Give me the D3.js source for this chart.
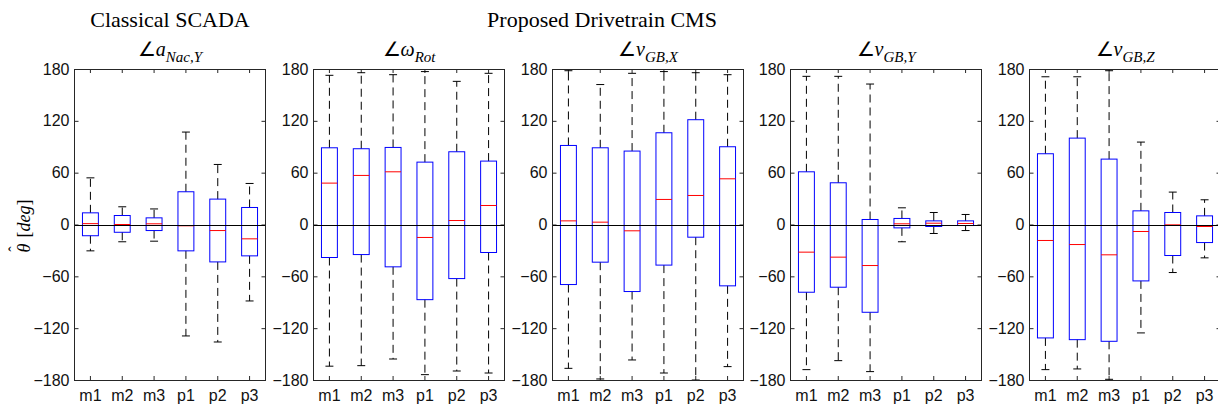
<!DOCTYPE html>
<html>
<head>
<meta charset="utf-8">
<script src="https://cdn.jsdelivr.net/npm/d3@7"></script>
<style>
  body { margin: 0; background: #fff; }
  svg { display: block; }
  .tick text { font-family: "Liberation Sans", Arial, sans-serif; font-size: 16px; fill: #111; }
  .tick line { stroke: #262626; }
</style>
</head>
<body>
<div id="chart"></div>
<script>
// Categories on every x axis
const categories = ['m1', 'm2', 'm3', 'p1', 'p2', 'p3'];
const yTicks = [-180, -120, -60, 0, 60, 120, 180];

// Box stats per category: [lower whisker, q1, median, q3, upper whisker]
const statsNacY = [
    [-30.5, -13, 1, 13.5, 54],
    [-20, -9, 0, 10.4, 20.5],
    [-19.3, -7, 0.8, 7.7, 18],
    [-129, -30.5, -1.5, 37.9, 107],
    [-136, -43.3, -7, 29.4, 69.5],
    [-88.5, -36.3, -16.6, 19.7, 47.5]
];
const statsRot = [
    [-164, -38.2, 47.9, 88.8, 172.7],
    [-163.4, -34.8, 56.8, 87.7, 175.7],
    [-155.7, -49, 61, 89.2, 173.4],
    [-173.8, -87, -15, 72.2, 177],
    [-169.6, -62.6, 4.6, 84.2, 165.7],
    [-171.9, -32.4, 22, 73.4, 175]
];
const statsGBX = [
    [-166.5, -69.5, 4.2, 91.5, 178],
    [-178.8, -43.6, 2.7, 88.8, 162],
    [-156.8, -77.6, -7.3, 85, 175],
    [-171.9, -47, 29, 106.2, 177],
    [-180, -14.7, 33.6, 121.3, 175.7],
    [-164.5, -71, 52.9, 90, 173.4]
];
const statsGBY = [
    [-168, -78.4, -32, 61, 171.5],
    [-157.6, -72.6, -37.8, 48.3, 171.5],
    [-170.3, -101.6, -47.5, 5.8, 162.6],
    [-20, -3.9, 0.8, 7, 19.3],
    [-10.4, -2.3, 1.5, 4.2, 13.9],
    [-7, -1.2, 1.2, 4.2, 11.6]
];
const statsGBZ = [
    [-168, -131.3, -18.5, 81.9, 171],
    [-167.2, -133.3, -23.2, 100, 171],
    [-179.2, -135.2, -35.1, 75.7, 178],
    [-125.5, -65.3, -8.1, 15.8, 95.4],
    [-55.6, -35.9, -0.4, 13.9, 37.5],
    [-38.6, -20.9, -2.3, 10, 28.6]
];

// Panel titles: main symbol + subscript
const panels = [
    { sym: 'a', sub: 'Nac,Y', stats: statsNacY },
    { sym: 'ω', sub: 'Rot', stats: statsRot },
    { sym: 'v', sub: 'GB,X', stats: statsGBX },
    { sym: 'v', sub: 'GB,Y', stats: statsGBY },
    { sym: 'v', sub: 'GB,Z', stats: statsGBZ }
];

const width = 1218, height = 407;
const panelLeft = 74, panelStep = 238.75, panelW = 191;
const yTop = 69, yBottom = 380;
const serif = '"Liberation Serif", "Times New Roman", serif';

const svg = d3.select('#chart')
    .append('svg')
    .attr('width', width)
    .attr('height', height);

const y = d3.scaleLinear().domain([-180, 180]).range([yBottom, yTop]);

panels.forEach((p, i) => {
    const left = Math.round(panelLeft + i * panelStep) + 0.5;
    const right = left + panelW;
    const x = d3.scaleBand().domain(categories).range([left, right]).padding(0);
    const bw = x.bandwidth() * 0.5;
    const cx = c => x(c) + x.bandwidth() / 2;

    const g = svg.append('g');

    // axes with inward ticks, like MATLAB's box on
    g.append('g')
        .attr('transform', `translate(${left},0)`)
        .call(d3.axisLeft(y).tickValues(yTicks).tickSize(-4).tickPadding(5))
        .call(a => a.select('.domain').remove());
    g.append('g')
        .attr('transform', `translate(${right},0)`)
        .call(d3.axisRight(y).tickValues(yTicks).tickSize(-4).tickFormat(''))
        .call(a => a.select('.domain').remove());
    g.append('g')
        .attr('transform', `translate(0,${yBottom})`)
        .call(d3.axisBottom(x).tickSize(-4).tickPadding(10))
        .call(a => a.select('.domain').remove());
    g.append('g')
        .attr('transform', `translate(0,${yTop})`)
        .call(d3.axisTop(x).tickSize(-4).tickFormat(''))
        .call(a => a.select('.domain').remove());

    // boxes
    const boxes = g.selectAll('.bx')
        .data(categories.map((c, k) => ({ c: c, s: p.stats[k] })))
        .enter()
        .append('g');

    // dashed whiskers
    boxes.append('line')
        .attr('x1', d => cx(d.c)).attr('x2', d => cx(d.c))
        .attr('y1', d => y(d.s[3])).attr('y2', d => y(d.s[4]))
        .attr('stroke', '#000').attr('stroke-dasharray', '8,5');
    boxes.append('line')
        .attr('x1', d => cx(d.c)).attr('x2', d => cx(d.c))
        .attr('y1', d => y(d.s[1])).attr('y2', d => y(d.s[0]))
        .attr('stroke', '#000').attr('stroke-dasharray', '8,5');
    // whisker caps
    [0, 4].forEach(j => {
        boxes.append('line')
            .attr('x1', d => cx(d.c) - bw / 4).attr('x2', d => cx(d.c) + bw / 4)
            .attr('y1', d => y(d.s[j])).attr('y2', d => y(d.s[j]))
            .attr('stroke', '#000');
    });
    boxes.append('rect')
        .attr('x', d => cx(d.c) - bw / 2)
        .attr('y', d => y(d.s[3]))
        .attr('width', bw)
        .attr('height', d => y(d.s[1]) - y(d.s[3]))
        .attr('fill', 'none')
        .attr('stroke', '#0000ff');
    boxes.append('line')
        .attr('x1', d => cx(d.c) - bw / 2).attr('x2', d => cx(d.c) + bw / 2)
        .attr('y1', d => y(d.s[2])).attr('y2', d => y(d.s[2]))
        .attr('stroke', '#ff0000');

    // zero reference line
    g.append('line')
        .attr('x1', left).attr('x2', right)
        .attr('y1', Math.round(y(0)) + 0.5).attr('y2', Math.round(y(0)) + 0.5)
        .attr('stroke', '#000');

    // frame
    g.append('rect')
        .attr('x', left).attr('y', yTop + 0.5)
        .attr('width', panelW).attr('height', yBottom - yTop)
        .attr('fill', 'none')
        .attr('stroke', '#262626');

    // panel title
    const t = g.append('text')
        .attr('x', (left + right) / 2)
        .attr('y', 56)
        .attr('text-anchor', 'middle')
        .style('font-family', serif)
        .style('font-size', '20px');
    t.append('tspan').text('∠');
    t.append('tspan').style('font-style', 'italic').text(p.sym);
    t.append('tspan').style('font-style', 'italic').style('font-size', '15px')
        .attr('dy', 6).text(p.sub);
});

// figure titles
svg.append('text')
    .attr('x', 170).attr('y', 27)
    .attr('text-anchor', 'middle')
    .style('font-family', serif).style('font-size', '22px')
    .text('Classical SCADA');
svg.append('text')
    .attr('x', 602).attr('y', 27)
    .attr('text-anchor', 'middle')
    .style('font-family', serif).style('font-size', '22px')
    .text('Proposed Drivetrain CMS');

// y label: theta with a hat, then [deg]
const yl = svg.append('text')
    .attr('transform', 'translate(30,226) rotate(-90)')
    .attr('text-anchor', 'middle')
    .style('font-family', serif).style('font-size', '18px');
yl.append('tspan').style('font-style', 'italic').text('θ');
yl.append('tspan').attr('dx', -8).attr('dy', -10).style('font-size', '16px').text('ˆ');
yl.append('tspan').attr('dy', 10).text('\u00a0\u00a0[');
yl.append('tspan').style('font-style', 'italic').text('deg');
yl.append('tspan').text(']');
</script>
</body>
</html>
